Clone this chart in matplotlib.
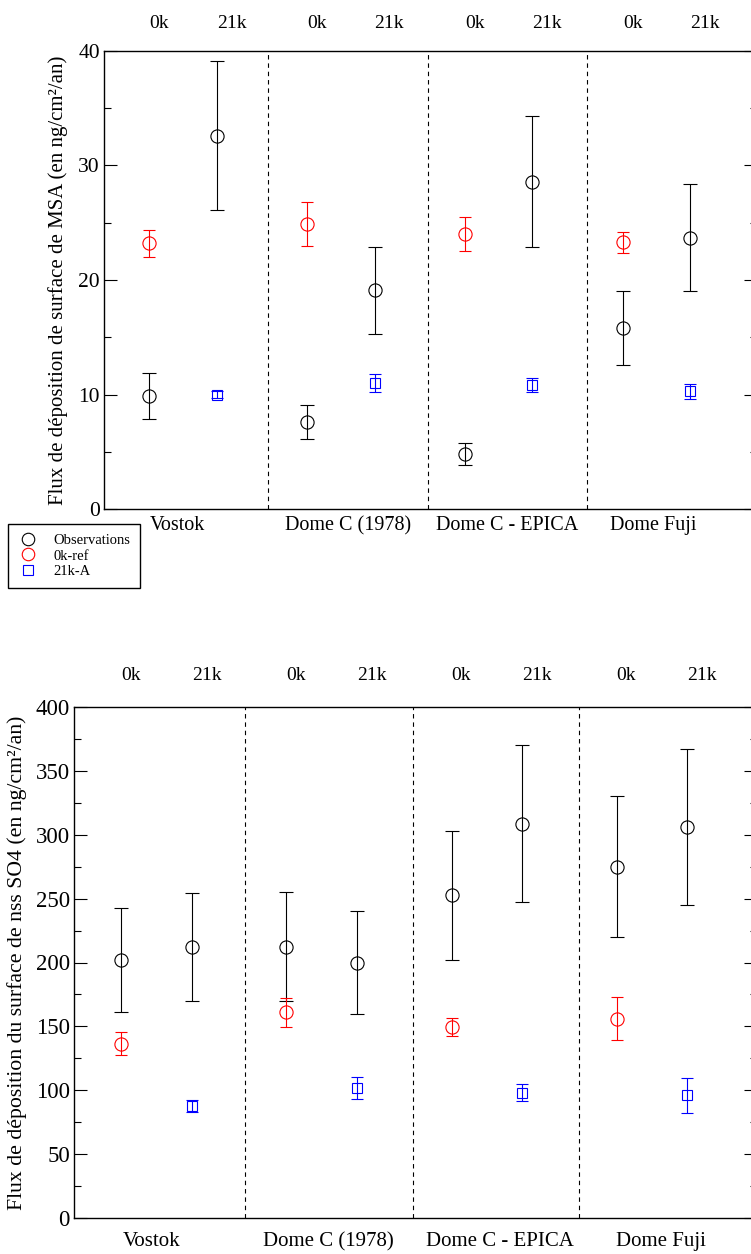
import numpy as np
import matplotlib
matplotlib.use("Agg")
import matplotlib.pyplot as plt
from matplotlib.lines import Line2D
from matplotlib.ticker import MultipleLocator

plt.rcParams['font.family'] = ['Liberation Serif', 'DejaVu Serif']

sites = ['Vostok', 'Dome C (1978)', 'Dome C - EPICA', 'Dome Fuji']
periods = ['0k', '21k']

# MSA deposition flux (ng/cm2/an)
msa_obs_0k = [9.9, 7.6, 4.8, 15.8]
msa_obs_0k_err = [2.0, 1.5, 0.95, 3.2]
msa_obs_21k = [32.6, 19.1, 28.6, 23.7]
msa_obs_21k_err = [6.5, 3.8, 5.7, 4.7]
msa_ref = [23.2, 24.9, 24.0, 23.3]
msa_ref_err = [1.2, 1.9, 1.5, 0.9]
msa_lgm = [10.0, 11.0, 10.8, 10.3]
msa_lgm_err = [0.3, 0.75, 0.6, 0.65]

# nss SO4 deposition flux (ng/cm2/an)
so4_obs_0k = [202, 212.5, 252.5, 275]
so4_obs_0k_err = [40.5, 42.5, 50.5, 55]
so4_obs_21k = [212, 200, 308.5, 306]
so4_obs_21k_err = [42.5, 40, 61.5, 61]
so4_ref = [136.5, 161, 149.5, 156]
so4_ref_err = [9, 11.5, 7.3, 16.8]
so4_lgm = [87.5, 102, 98, 96]
so4_lgm_err = [4.7, 8.7, 6.7, 13.5]

W, H = 751, 1254
fig = plt.figure(figsize=(W / 100, H / 100), dpi=100)

x0 = np.arange(len(sites), dtype=float)
x21 = x0 + 0.427
seps = [0.75, 1.767, 2.77]


def panel(rect, obs0, obs0e, obs21, obs21e, ref, refe, lgm, lgme,
          ylim, major, minor, ylabel, ylab_x, ylab_fs, site_pos, site_y,
          site_fs, tick_fs):
    l, t, r, b = rect
    ax = fig.add_axes([l / W, 1 - b / H, (r - l) / W, (b - t) / H])
    ebkw = dict(fmt='o', mfc='none', ms=9.5, mew=0.8, elinewidth=0.8,
                capthick=0.8, capsize=5)
    ax.errorbar(x0, obs0, yerr=obs0e, color='black', **ebkw)
    ax.errorbar(x21, obs21, yerr=obs21e, color='black', **ebkw)
    ax.errorbar(x0, ref, yerr=refe, color='red', **dict(ebkw, capsize=4.3))
    ax.errorbar(x21, lgm, yerr=lgme, color='blue',
                **dict(ebkw, fmt='s', ms=7, capsize=4.3))
    for s in seps:
        ax.axvline(s, color='black', lw=0.8, ls=(0, (4, 3.5)))
    ax.set_xlim(-0.287, 3.85)
    ax.set_ylim(*ylim)
    ax.yaxis.set_major_locator(MultipleLocator(major))
    ax.yaxis.set_minor_locator(MultipleLocator(minor))
    ax.tick_params(which='both', direction='in', left=True, right=True,
                   top=False, bottom=False, labelbottom=False,
                   labelsize=tick_fs, width=0.8, pad=3)
    ax.tick_params(which='major', length=9.5)
    ax.tick_params(which='minor', length=5)
    for sp in ax.spines.values():
        sp.set_linewidth(1.0)
    tr = ax.get_xaxis_transform()
    for i in range(len(sites)):
        ax.text(x0[i], 1.061, periods[0], transform=tr, ha='left',
                va='center', fontsize=14)
        ax.text(x21[i], 1.061, periods[1], transform=tr, ha='left',
                va='center', fontsize=14)
        ax.text(site_pos[i], site_y, sites[i], transform=tr, ha='center',
                va='center', fontsize=site_fs)
    fig.text(ylab_x / W, 1 - (t + b) / 2 / H, ylabel, rotation=90,
             ha='center', va='center', fontsize=ylab_fs)
    return ax


panel((104, 51, 757, 509), msa_obs_0k, msa_obs_0k_err, msa_obs_21k,
      msa_obs_21k_err, msa_ref, msa_ref_err, msa_lgm, msa_lgm_err,
      (0, 40), 10, 5, 'Flux de déposition de surface de MSA (en ng/cm²/an)',
      58, 15, [0.18, 1.26, 2.27, 3.19], -0.037, 14.5, 15.5)

panel((74, 707, 757, 1218), so4_obs_0k, so4_obs_0k_err, so4_obs_21k,
      so4_obs_21k_err, so4_ref, so4_ref_err, so4_lgm, so4_lgm_err,
      (0, 400), 50, 25,
      'Flux de déposition du surface de nss SO4 (en ng/cm²/an)',
      17, 15.7, [0.18, 1.254, 2.295, 3.27], -0.046, 15, 16.5)

handles = [
    Line2D([], [], ls='none', marker='o', mfc='none', mec='black', ms=9, mew=0.8),
    Line2D([], [], ls='none', marker='o', mfc='none', mec='red', ms=9, mew=0.8),
    Line2D([], [], ls='none', marker='s', mfc='none', mec='blue', ms=7.5, mew=0.8),
]
leg = fig.legend(handles, ['Observations', '0k-ref', '21k-A'],
                 loc='upper left', bbox_to_anchor=(8 / W, 1 - 524 / H),
                 fontsize=10.5, frameon=True, fancybox=False, framealpha=1,
                 edgecolor='black', handlelength=1.5, handletextpad=0.95,
                 labelspacing=0.18, borderpad=0.65, borderaxespad=0)
leg.get_frame().set_linewidth(1.0)

fig.savefig('out.png', dpi=100)
